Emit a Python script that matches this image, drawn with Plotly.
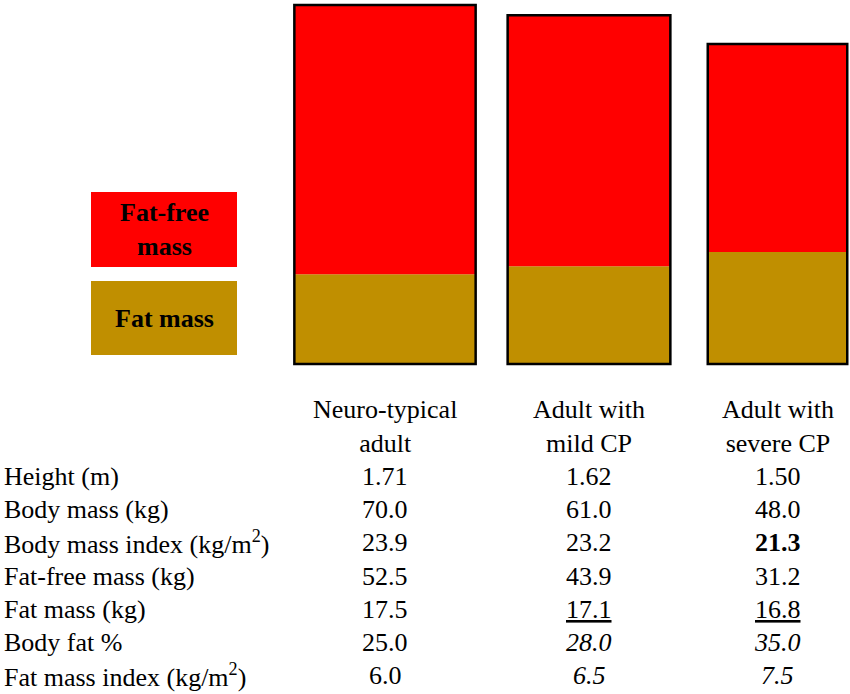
import plotly.graph_objects as go

# data
groups = ["Neuro-typical<br>adult", "Adult with<br>mild CP", "Adult with<br>severe CP"]
height_m = [1.71, 1.62, 1.50]
body_mass = [70.0, 61.0, 48.0]
bmi = [23.9, 23.2, 21.3]
fat_free_mass = [52.5, 43.9, 31.2]
fat_mass = [17.5, 17.1, 16.8]
body_fat_pct = [25.0, 28.0, 35.0]
fat_mass_index = [6.0, 6.5, 7.5]

row_labels = [
    "Height (m)",
    "Body mass (kg)",
    "Body mass index (kg/m<sup>2</sup>)",
    "Fat-free mass (kg)",
    "Fat mass (kg)",
    "Body fat %",
    "Fat mass index (kg/m<sup>2</sup>)",
]
row_values = [height_m, body_mass, bmi, fat_free_mass, fat_mass, body_fat_pct, fat_mass_index]
row_decimals = [2, 1, 1, 1, 1, 1, 1]

# emphasis used in the table (row, column) -> tag
cell_style = {
    (2, 2): "b",
    (4, 1): "u", (4, 2): "u",
    (5, 1): "i", (5, 2): "i",
    (6, 1): "i", (6, 2): "i",
}

# bar width = height^2, bar height = mass / height^2  -> area is mass
width_m2 = [h ** 2 for h in height_m]
fat_idx = [m / w for m, w in zip(fat_mass, width_m2)]
ffm_idx = [m / w for m, w in zip(fat_free_mass, width_m2)]
total_idx = [a + b for a, b in zip(fat_idx, ffm_idx)]

W, H = 850, 694
px_per_m2 = 62.0
px_per_unit = 15.0
base_px = 364
bar_centres_px = [385, 589, 777.5]
bar_x = [c / px_per_m2 for c in bar_centres_px]

RED = "#FF0000"
GOLD = "#C08F00"
FONT = "Liberation Serif"
FS = 26


def px(x, y):
    return x / W, 1 - y / H


fig = go.Figure()
fig.add_trace(go.Bar(x=bar_x, y=fat_idx, base=[0, 0, 0], width=width_m2,
                     marker=dict(color=GOLD, line=dict(width=0)), name="Fat mass"))
fig.add_trace(go.Bar(x=bar_x, y=ffm_idx, base=fat_idx, width=width_m2,
                     marker=dict(color=RED, line=dict(width=0)), name="Fat-free mass"))
fig.add_trace(go.Bar(x=bar_x, y=total_idx, base=[0, 0, 0], width=width_m2,
                     marker=dict(color="rgba(0,0,0,0)", line=dict(color="black", width=2.5)),
                     hoverinfo="skip"))

# legend boxes
for (y0, y1, col, txt) in [(192, 267, RED, "<b>Fat-free<br>mass</b>"),
                           (281, 355, GOLD, "<b>Fat mass</b>")]:
    x0p, y0p = px(91, y0)
    x1p, y1p = px(237, y1)
    fig.add_shape(type="rect", xref="paper", yref="paper", x0=x0p, x1=x1p, y0=y1p, y1=y0p,
                  fillcolor=col, line=dict(width=0), layer="below")
    cx, cy = px(164, (y0 + y1) / 2)
    fig.add_annotation(x=cx, y=cy, xref="paper", yref="paper", text=txt, showarrow=False,
                       xanchor="center", yanchor="middle", font=dict(family=FONT, size=FS, color="black"))

# table
header_base = 418
row_base = 485
row_step = 33.2
shift = 0.33 * FS

for j, g in enumerate(groups):
    cx, cy = px(bar_centres_px[j], header_base - shift + row_step / 2)
    fig.add_annotation(x=cx, y=cy, xref="paper", yref="paper", text=g, showarrow=False,
                       xanchor="center", yanchor="middle", font=dict(family=FONT, size=FS, color="black"))

for i, (lab, vals, d) in enumerate(zip(row_labels, row_values, row_decimals)):
    yb = row_base + i * row_step - shift
    lx, ly = px(2, yb)
    fig.add_annotation(x=lx, y=ly, xref="paper", yref="paper", text=lab, showarrow=False,
                       xanchor="left", yanchor="middle", font=dict(family=FONT, size=FS, color="black"))
    for j, v in enumerate(vals):
        s = f"{v:.{d}f}"
        tag = cell_style.get((i, j))
        if tag:
            s = f"<{tag}>{s}</{tag}>"
        cx, cy = px(bar_centres_px[j], yb)
        fig.add_annotation(x=cx, y=cy, xref="paper", yref="paper", text=s, showarrow=False,
                           xanchor="center", yanchor="middle", font=dict(family=FONT, size=FS, color="black"))

fig.update_layout(
    width=W, height=H,
    margin=dict(l=0, r=0, t=0, b=0),
    paper_bgcolor="white", plot_bgcolor="white",
    barmode="overlay", showlegend=False,
    xaxis=dict(range=[0, W / px_per_m2], visible=False, fixedrange=True),
    yaxis=dict(range=[-(H - base_px) / px_per_unit, base_px / px_per_unit], visible=False, fixedrange=True),
)

# page body has a default 8px margin; drop it so the figure sits at the corner
fig.write_html("out.html", config={"displayModeBar": False},
               post_script="document.body.style.margin='0';document.body.style.overflow='hidden';")
